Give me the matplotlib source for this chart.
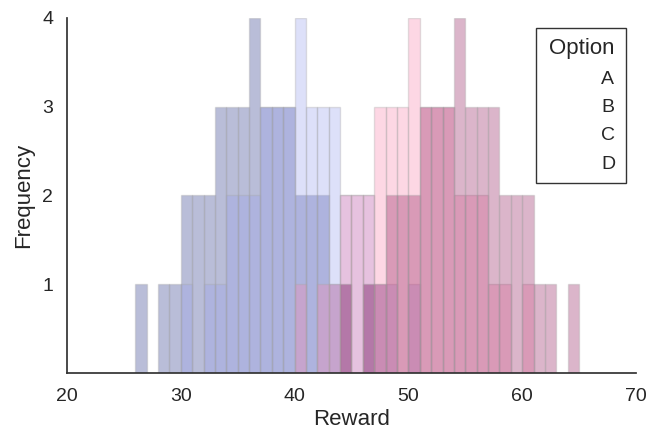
import matplotlib
matplotlib.use("Agg")
import matplotlib.pyplot as plt
import numpy as np
from matplotlib.patches import Patch

plt.rcParams['font.family'] = ['Liberation Sans', 'DejaVu Sans']

options = ['A', 'B', 'C', 'D']
colors = ['#2b3789', '#98a1ed', '#f986ad', '#921f5e']

# left edge of first bin and counts per unit-wide bin
start_a = 26
counts_a = [1, 0, 1, 1, 2, 2, 2, 3, 3, 3, 4, 3, 3, 3, 2, 2, 2, 1, 1, 0, 1]
start_b = 30
counts_b = [1, 0, 1, 1, 2, 2, 2, 3, 3, 3, 4, 3, 3, 3, 2, 2, 2, 1, 1, 0, 1]
start_c = 40
counts_c = [1, 0, 1, 1, 2, 2, 2, 3, 3, 3, 4, 3, 3, 3, 2, 2, 2, 1, 1, 0, 1]
start_d = 44
counts_d = [1, 0, 1, 1, 2, 2, 2, 3, 3, 3, 4, 3, 3, 3, 2, 2, 2, 1, 1, 0, 1]

starts = [start_a, start_b, start_c, start_d]
counts = [counts_a, counts_b, counts_c, counts_d]

fig = plt.figure(figsize=(6.6, 4.33), dpi=100)
ax = fig.add_axes([0.1015, 0.1386, 0.8621, 0.8199])

for s, c, col in zip(starts, counts, colors):
    c = np.array(c)
    x = np.arange(s, s + len(c))
    m = c > 0
    ax.bar(x[m], c[m], width=1, align='edge', color=col, alpha=0.33,
           edgecolor='0.65', linewidth=1)

ax.set_xlim(20, 70)
ax.set_ylim(0, 4)
ax.set_xticks([20, 30, 40, 50, 60, 70])
ax.set_yticks([1, 2, 3, 4])
ax.tick_params(length=0, labelsize=14, colors='#262626')
ax.tick_params(axis='x', pad=11)
ax.tick_params(axis='y', pad=10)

for side in ['top', 'right']:
    ax.spines[side].set_visible(False)
for side in ['left', 'bottom']:
    ax.spines[side].set_color('#333333')
    ax.spines[side].set_linewidth(1.25)

ax.set_xlabel('Reward', fontsize=16, color='#262626', labelpad=3)
ax.set_ylabel('Frequency', fontsize=16, color='#262626', labelpad=6)

handles = [Patch(facecolor='none', edgecolor='none') for _ in options]
leg = ax.legend(handles, options, title='Option', loc='upper right',
                fontsize=14, title_fontsize=16, fancybox=False,
                framealpha=1, edgecolor='#333333', borderpad=0.55,
                labelspacing=0.55)
leg.get_frame().set_linewidth(1)
for t in leg.get_texts():
    t.set_color('#262626')
leg.get_title().set_color('#262626')

fig.savefig('out.png', dpi=100)
